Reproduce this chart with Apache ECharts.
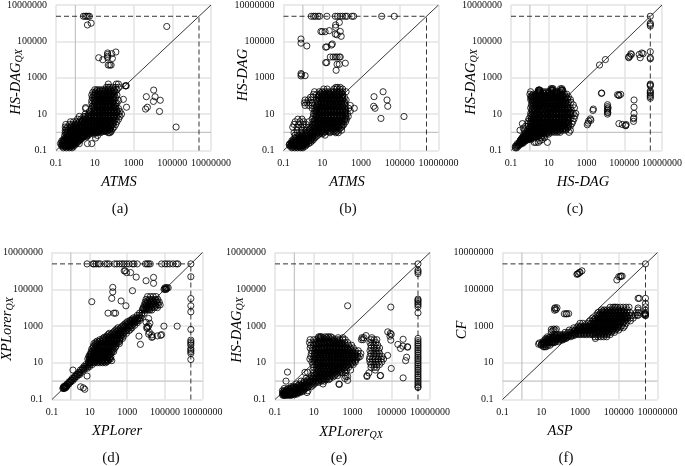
<!DOCTYPE html>
<html><head><meta charset="utf-8">
<style>html,body{margin:0;padding:0;background:#fff}#c{width:685px;height:466px}</style>
<script src="https://cdn.jsdelivr.net/npm/echarts@6/dist/echarts.min.js"></script>
</head><body><div id="c"></div>
<script>
// Values. Each row is [y value, [x values]].
const TIMEOUT = 2400000;
const tickValues = [0.1, 10, 1000, 100000, 10000000];

const rowsA = [
[0.14,[.24,.34,.48,.67]],[0.17,[.2,.28,.4,.56,.8]],[0.2,[.2,.24,.34,.48,.67,.95]],
[0.24,[.17,.28,.4,.56,.8,1.1,1.6,4.2,7]],[0.28,[.2,.34,.48,.67,.95,1.3]],[0.34,[.2,.28,.4,.56,.8,1.1,1.6]],
[0.4,[.24,.34,.48,.67,.95,1.3,1.9]],[0.48,[.28,.4,.56,.8,1.1,1.6,2.2,11]],[0.56,[.34,.48,.67,.95,1.3,1.9,2.7,3.8]],
[0.67,[.28,.4,.56,.8,1.1,1.6,2.2,3.2,4.5,14]],[0.8,[.34,.48,.67,.95,1.3,1.9,2.7,3.8,5.3,9]],[0.95,[.3,.4,.56,.8,1.1,1.6,2.2,3.2,4.5,6.3,9,13,20,50,60]],
[1.1,[.34,.48,.67,.95,1.3,1.9,2.7,3.8,5.3,7.5,10.6,15,21,30,42,70]],[1.3,[.3,.4,.56,.8,1.1,1.6,2.2,3.2,4.5,6.3,9,13,18,25,35,50,70]],
[1.6,[.34,.48,.67,.95,1.3,1.9,2.7,3.8,5.3,7.5,10.6,15,21,30,42,60,85]],[1.95,[.3,.4,.56,.8,1.1,1.6,2.2,3.2,4.5,6.3,9,13,18,25,35,50,70,100]],
[2.7,[.32,.5,.7,.95,1.3,1.9,2.7,3.8,5.3,7.5,10.6,15,21,30,42,60,85,120]],[3.8,[.56,.8,1.1,1.6,2.2,3.2,4.5,6.3,9,13,18,25,35,50,70,100,140]],
[5.3,[1.3,1.9,2.7,3.8,5.3,7.5,10.6,15,21,30,42,60,85,120,170]],[7.5,[1.6,2.7,3.2,4.5,6.3,9,13,18,25,35,50,70,100,140,200]],
[10,[3.2,5,7.5,10.6,15,21,30,42,60,85,120,170,240]],[14,[5.3,9,13,18,25,35,50,70,100,140,200]],
[20,[3.4,7,10.6,15,21,30,42,60,85,120,170]],[24,[435]],[28,[7.5,9,13,18,25,35,50,70,100,120]],[40,[7,10.6,15,21,30,42,60,85,120,140]],
[56,[7,9,13,18,25,35,50,70,100,170]],[65,[300]],[80,[7.5,10.6,15,21,30,42,60,85,120]],[112,[7,9,13,18,25,35,50,70,100,140]],
[160,[8,10.6,15,21,30,42,60,85,112]],[220,[10,13,18,25,35,50,70,100,140]],[300,[40,50,60,85,120,170]],[360,[400,380,420]],[450,[50,166,130]],
[.16,[.3,.4,.56]],[.18,[.24,.34,.48,.67]],[.22,[.2,.28,.4,.56,.8]],[.26,[.24,.34,.48,.67,.95]],[.31,[.24,.34,.48,.67,.95,1.3]],[.37,[.28,.4,.56,.8,1.1,1.6]],[.44,[.34,.48,.67,.95,1.3,1.9]],[.52,[.4,.56,.8,1.1,1.6,2.2]],[.62,[.48,.67,.95,1.3,1.9,2.7,3.8]],[.73,[.48,.67,.95,1.3,1.9,2.7,3.8]],[.88,[.56,.8,1.1,1.6,2.2,3.2,4.5]],
[1.03,[.67,.95,1.3,1.9,2.7,3.8,5.3,7.5,10.6,15]],[1.2,[.56,.8,1.1,1.6,2.2,3.2,4.5,6.3,9,13,18,25,35]],[1.45,[.67,.95,1.3,1.9,2.7,3.8,5.3,7.5,10.6,15,21,30,42,60]],[1.75,[.8,1.1,1.6,2.2,3.2,4.5,6.3,9,13,18,25,35,50]],[2.3,[.8,1.1,1.6,2.2,3.2,4.5,6.3,9,13,18,25,35,50,70]],[3.2,[1.3,1.9,2.7,3.8,5.3,7.5,10.6,15,21,30,42,60,85]],
[4.5,[2.2,3.2,4.5,6.3,9,13,18,25,35,50,70,100]],[6.3,[3.2,4.5,6.3,9,13,18,25,35,50,70,100]],[8.7,[4.5,6.3,9,13,18,25,35,50,70,100]],[12,[6.3,9,13,18,25,35,50,70,100,140]],[17,[9,13,18,25,35,50,70,100,140]],[24,[9,13,18,25,35,50,70,100]],[34,[9,13,18,25,35,50,70,100]],[48,[10,15,21,30,42,60,85]],[68,[9,13,18,25,35,50,70,100]],[95,[9,13,18,25,35,50,70,100]],[135,[10.6,15,21,30,42,60,85]],[190,[13,18,25,35,50,70,100]]];
const outliersA = [[52000,660000],[2.6,2400000],[3.2,2400000],[3.8,2400000],[4.5,2400000],[5.3,2400000],[4.2,800000],[6.5,1000000],
[16,12600],[26,9800],[46,23000],[46,19000],[46,15000],[46,12600],[76,21000],[123,26000],[81,11500],[50,5000],[70,5000],[60,5000],
[4600,91],[11000,210],[13000,90],[10700,50],[24000,58],[5200,24],[4200,19],[22000,14],[158000,1.95],[3.4,23]];

const rowsB = [
[0.14,[.27,.38,.53,.75,1]],[0.17,[.22,.32,.45,.63,.9,1.3]],[0.2,[.2,.27,.38,.53,.75,1.06,1.5]],[0.24,[.22,.32,.45,.63,.9,1.3,2]],
[0.28,[.27,.38,.53,.75,1.06,1.5,2.5]],[0.34,[.27,.45,.63,.9,1.3,2,3]],[0.4,[.32,.53,.75,1.06,1.5,2.5,3.5]],[0.5,[.38,.63,.9,1.3,2,3,4.2]],
[0.7,[.4,.6,.9,1.4,2,3,4.2,6,14]],[0.95,[.35,.5,.8,1.3,2,3,4.2,6,8.5,12,25,50,68]],[1.3,[.5,.9,1.5,2.1,3,4.2,6,8.5,12,17,24,34,48,68,100]],
[1.9,[.3,.5,.8,1.2,2,3,4.2,6,8.5,12,17,24,34,48,68,100]],[2.7,[.35,.6,1,1.5,3,4.2,6,8.5,12,17,24,34,48,68,100,130]],
[3.8,[.4,.7,1.1,2,3.5,5,7,10,14,20,28,40,56,80,112,160]],[5.3,[.55,.9,3,4.2,6,8.5,12,17,24,34,48,68,100,140,180]],
[7.5,[3.5,5,7,10,14,20,28,40,56,80,112,160,220]],[10.6,[3.5,4.2,6,8.5,12,17,24,34,48,68,100,140,200]],[15,[4,5,7,10,14,20,28,40,56,80,112,160,280]],
[21,[3,4.2,6,8.5,12,17,24,34,48,68,100,140,230,450]],[30,[1.3,2,3,5,7,10,14,20,28,40,56,80,112,160,280]],[42,[1.2,1.6,2.2,3,6,8.5,12,17,24,34,48,68,100,140]],
[60,[1.3,1.9,2.7,5,7,10,14,20,28,40,56,80,112,170]],[85,[2.5,3.3,6,8.5,12,17,24,34,48,68,100,140]],[120,[3.5,5,7,10,14,20,28,40,56,80,112]],
[170,[4,7,10,14,20,28,40,56,80,112,170]],[240,[12,18,40,56,80,112]],[295,[50,85,60]],
[.155,[.3,.45,.63,.9]],[.185,[.25,.38,.53,.75,1.06]],[.22,[.2,.27,.38,.53,.75,1.06,1.5]],[.26,[.26,.38,.53,.75,1.06,1.5]],[.31,[.32,.45,.63,.9,1.3,2]],[.37,[.38,.53,.75,1.06,1.5,2.5]],[.45,[.45,.63,.9,1.3,2,3]],
[.6,[.7,1,1.6,2.4,3.5,5]],[.82,[1,1.6,2.4,3.5,5,7,10]],[1.1,[2.4,3.5,5,7,10,14,20,28,40,56]],[1.6,[2.4,3.5,5,7,10,14,20,28,40,56,80]],[2.3,[3.5,5,7,10,14,20,28,40,56,80,112]],[3.2,[4.2,6,8.5,12,17,24,34,48,68,100]],[4.5,[4.2,6,8.5,12,17,24,34,48,68,100,140]],
[6.3,[5,7,10,14,20,28,40,56,80,112,160]],[9,[5,7,10,14,20,28,40,56,80,112,160]],[12.6,[5,7,10,14,20,28,40,56,80,112,160]],[18,[5,7,10,14,20,28,40,56,80,112,160]],[25,[5,7,10,14,20,28,40,56,80,112]],[35,[6,8.5,12,17,24,34,48,68,100,140]],[50,[6,8.5,12,17,24,34,48,68,100,140]],[72,[7,10,14,20,28,40,56,80,112]],[100,[7,10,14,20,28,40,56,80,112]],[145,[8.5,12,17,24,34,48,68,100]]];
const outliersB = [[2.7,TIMEOUT],[3.6,TIMEOUT],[4.4,TIMEOUT],[6,TIMEOUT],[7.3,TIMEOUT],[17.4,TIMEOUT],[47,TIMEOUT],[62,TIMEOUT],[85,TIMEOUT],[112,TIMEOUT],[155,TIMEOUT],[190,TIMEOUT],[340,TIMEOUT],[417,TIMEOUT],[11700,TIMEOUT],[52000,TIMEOUT],
[49,800000],[49,590000],[76,1100000],[8.5,350000],[10,340000],[14,340000],[23,390000],[85,350000],[47,250000],[58,230000],[95,190000],[.8,135000],[.8,80000],[1.6,56000],[15,48000],[17,50000],[30,63000],[33,72000],
[26,13800],[36,13800],[47,13800],[58,13800],[76,13800],[85,13800],[15,6800],[17,6800],[58,5500],[76,5500],[155,6300],[52,2570],[.8,1700],[.8,1260],[1.3,1300],[.85,1500],
[4700,91],[13800,170],[22000,60],[4500,27],[5300,21],[24000,27],[10700,5.8],[166000,7.4]];

const rowsC = [
[0.14,[.17,.2]],[0.17,[.17,.2,.24]],[0.2,[.2,.24,.28]],[0.24,[.22,.28,.34,.4]],[0.28,[.28,.34,.4,.48,1.7,2.1,2.8,8.5]],[0.34,[.3,.38,.48,.6,3.4]],
[0.4,[.34,.42,.53,.67,.85,1.1,4.5]],[0.5,[.4,.5,.63,.8,1,1.3,1.7,4,6]],[0.62,[.45,.6,.75,.95,1.2,1.6,2.1,2.8,4.2,5.6]],[0.8,[.55,.7,.9,1.2,1.6,2.1,2.8,3.8,5,7,10]],
[1,[.6,.8,1.1,1.5,2,2.8,3.8,5,7,10,14,20,28,40,120]],[1.3,[.3,.5,.75,1,1.4,1.9,2.6,3.5,5,7,10,14,20,28,40,56,80,140]],[1.7,[.45,.9,1.2,1.6,2.2,3,4.2,6,8.5,12,17,24,34,48,68,100]],
[2.2,[.6,.8,1.1,1.5,2,2.8,3.8,5.3,7.5,10,14,20,28,40,56,80,112,140]],[3,[.4,.8,1.1,1.5,2,2.8,3.8,5.3,7.5,10,14,20,28,40,56,80,112,170]],[4,[.8,1.1,1.5,2,2.8,3.8,5.3,7.5,10,14,20,28,40,56,80,112,190]],
[5.6,[.9,1.2,1.6,2.2,3,4.2,6,8.5,12,17,24,34,48,68,100,140,220]],[8,[1.1,1.5,2,2.8,3.8,5.3,7.5,10,14,20,28,40,56,80,112,160,240]],[11,[1.1,1.6,2.2,3,4.2,6,8.5,12,17,24,34,48,68,100,140,200,270]],
[16,[1.3,1.8,2.5,3.5,5,7,10,14,20,28,40,56,80,112,160]],[22,[1.1,1.6,2.2,3,4.2,6,8.5,12,17,24,34,48,68,100,140,230]],[32,[1.2,1.7,2.4,3.3,4.7,6.5,9,13,18,25,35,50,70,100,200]],
[45,[1.3,1.8,2.5,3.5,5,7,10,14,20,28,40,56,80,110,150]],[63,[1.1,1.5,2.2,3,4.2,6,8.5,12,17,24,34,48,68,100,140]],[90,[1.1,1.3,1.8,2.5,3.5,5,7,10,14,20,28,40,56,80,110]],
[125,[1,1.5,2.2,3,4.2,6,8.5,12,17,24,34,48,68,90]],[170,[1.1,2.7,3.1,3.5,5,7,10,14,20,28,40,56]],[210,[2.8,3,3.2,3.4,13,15,17,45,50,55]],[250,[13,15,17,42,50]],
[.31,[.3,.36,.44]],[.37,[.32,.4,.5,.63]],[.45,[.36,.45,.56,.7,.9,1.2]],[.56,[.42,.53,.67,.85,1.1,1.4,1.9]],[.71,[.6,.8,1,1.3,1.8,2.4,3.2]],[.9,[.7,.95,1.3,1.8,2.4,3.2,4.3,6,8.5]],[1.15,[.95,1.3,1.8,2.4,3.2,4.3,6,8.5,12,17,24,34]],[1.5,[1.1,1.5,2,2.8,3.8,5,7,10,14,20,28,40,56,80]],[1.95,[1.3,1.8,2.4,3.3,4.7,6.5,9,13,18,25,35,50,70]],
[2.6,[1.3,1.8,2.4,3.3,4.7,6.5,9,13,18,25,35,50,70,100]],[3.5,[1.3,1.8,2.4,3.3,4.7,6.5,9,13,18,25,35,50,70,100]],[4.8,[1.3,1.8,2.4,3.3,4.7,6.5,9,13,18,25,35,50,70,100]],[6.8,[1.3,1.8,2.4,3.3,4.7,6.5,9,13,18,25,35,50,70,100]],[9.5,[1.3,1.8,2.4,3.3,4.7,6.5,9,13,18,25,35,50,70,100,140]],[13,[1.3,1.8,2.4,3.3,4.7,6.5,9,13,18,25,35,50,70,100,140]],[19,[1.3,1.8,2.4,3.3,4.7,6.5,9,13,18,25,35,50,70,100]],[27,[1.4,2,2.8,3.8,5.3,7.5,10.6,15,21,30,42,60,85]],[38,[1.5,2.1,3,4,5.6,8,11,16,22,32,45,63,90]],[54,[1.3,1.8,2.5,3.5,5,7,10,14,20,28,40,56,80]],[75,[1.2,1.6,2.2,3,4.2,6,8.5,12,17,24,34,48,68,95]],[105,[1.3,1.8,2.5,3.5,5,7,10,14,20,28,40,56]],[145,[2.5,3.5,5,7,10,14,20,28,40]]];
const outliersC = [[TIMEOUT,TIMEOUT],[TIMEOUT,1000000],[TIMEOUT,850000],[TIMEOUT,700000],[10000,10000],[4900,5000],
[174000,12600],[200000,15500],[224000,20900],[240000,19000],[170000,14000],[620000,19000],[700000,12600],[850000,23000],[1000000,21000],[TIMEOUT,27000],[TIMEOUT,12600],[TIMEOUT,11000],
[TIMEOUT,450],[TIMEOUT,400],[TIMEOUT,360],[TIMEOUT,190],[TIMEOUT,160],[TIMEOUT,138],[TIMEOUT,110],[TIMEOUT,91],[TIMEOUT,75],
[6200,138],[6400,145],[44000,117],[52000,112],[65000,122],[52000,105],[330000,60],[330000,24],[330000,11],[310000,5.5],[310000,4],[320000,6.3],
[13000,33],[13000,26],[13000,19],[13000,16],[13000,13],[13000,10],[14000,22],[13500,12],[2300,19],[2200,16],[1600,5.5],[1300,4.2],[1100,2.6],[1200,3.2],[1700,4.6],
[52000,3],[79000,2.7],[117000,2.4],[126000,2.7],[120000,2.3]];

const rowsD = [
[0.4,[.38,.42,.46]],[0.45,[.4,.45,.5,.55]],[0.5,[.42,.47,.52,.58]],[0.56,[.5,.56,.63]],[0.7,[.63,.7,.8]],[0.9,[.8,.9,1]],[1.1,[1,1.1,1.3]],[1.4,[1.2,1.4,1.6]],
[1.8,[1.6,1.8,2.1]],[2.3,[2,2.3,2.6,3]],[3,[2.6,3,3.5]],[4,[3.2,4,4.8]],[5,[4.2,5,6,7.5]],[6.3,[5,6.3,8,10]],[8,[6.3,8,10,14]],
[10,[9,11,14,18,25,35,50,70]],[13,[9,11,14,18,25,35,50,70,100,150]],[16,[8,10,14,20,28,40,56,80,112,130]],[22,[9,12,17,24,34,48,68,95,135]],[30,[11,15,21,30,42,60,85,120]],
[40,[12,17,24,34,48,68,95,135,190]],[56,[13,18,25,35,50,70,100,140,200]],[80,[16,23,32,45,63,90,125,180,250]],[110,[17,24,34,48,68,95,135,190,270,380]],[150,[25,35,50,70,100,140,200,280,400]],
[210,[50,70,100,140,200,280,400,560]],[280,[80,112,160,225,320,450,630,4200]],[400,[112,160,225,320,450,630,900]],[560,[225,320,450,630,900,1250]],[800,[320,450,630,900,1250,1800]],
[1100,[630,900,1250,1800,2500]],[1500,[900,1250,1800,2500,3400]],[2000,[1400,1800,2500,3400,4500]],[2800,[2200,3000,4000,5300]],[3800,[3400,4500,6000]],[5000,[4500,6000,8000,95,195,240]],
[7400,[6300,8000,10000,13000,16000,20000]],[10000,[7000,10000,14000,20000,28000,40000]],[14000,[8000,11000,16000,22000,32000,45000,56000]],[20000,[9000,12500,18000,25000,36000,50000]],[28000,[10000,15000,21000,30000,42000]],[40000,[12000,17000,24000,34000]],
[100000,[90000,100000,110000,120000]],[120000,[100000,115000,130000,150000]],
[11.5,[12,16,21,30,42,60,85]],[14.5,[10,12,16,23,33,47,66,95]],[19,[10,12,16,23,33,47,66,95,120]],[26,[10,13,19,27,38,54,75,105]],[35,[13,19,27,38,54,75,105,150]],[48,[15,21,30,42,60,85,120,170]],[67,[15,21,30,42,60,85,120,170,230]],[95,[20,28,40,56,80,112,160,225]],[130,[21,30,42,60,85,120,170,240,340]],[180,[35,50,70,100,140,200,280,400]],[245,[60,85,120,170,240,340,480]],[340,[95,135,190,270,380,530]],[480,[190,270,380,530,750]],[670,[270,380,530,750,1050,1500]],[950,[530,750,1050,1500]],[1300,[750,1050,1500,2100]],[1750,[1050,1500,2100,3000]],[2400,[1800,2500,3500]],[8700,[7000,9000,11500,15000]],[12000,[9000,12000,17000,24000,34000]],[17000,[10000,14000,20000,28000,40000]],[24000,[12000,17000,25000,36000]]];
const outliersD = [[7.3,TIMEOUT],[15,TIMEOUT],[17,TIMEOUT],[22,TIMEOUT],[29,TIMEOUT],[36,TIMEOUT],[65,TIMEOUT],[85,TIMEOUT],[107,TIMEOUT],[210,TIMEOUT],[280,TIMEOUT],[390,TIMEOUT],[530,TIMEOUT],[690,TIMEOUT],[930,TIMEOUT],[1250,TIMEOUT],[1900,TIMEOUT],[2300,TIMEOUT],[3400,TIMEOUT],[9300,TIMEOUT],[11300,TIMEOUT],[13700,TIMEOUT],[16700,TIMEOUT],[67000,TIMEOUT],[100000,TIMEOUT],[132000,TIMEOUT],[180000,TIMEOUT],[270000,TIMEOUT],[400000,TIMEOUT],[490000,TIMEOUT],[TIMEOUT,TIMEOUT],
[TIMEOUT,480000],[TIMEOUT,31000],[TIMEOUT,12600],[TIMEOUT,5900],[TIMEOUT,650],[TIMEOUT,170],[TIMEOUT,138],[TIMEOUT,112],[TIMEOUT,91],[TIMEOUT,60],[TIMEOUT,49],[TIMEOUT,40],[TIMEOUT,32],[TIMEOUT,15],
[690,1000000],[780,1000000],[930,800000],[1500,810000],[3000,460000],[10000,290000],[25000,440000],[25000,210000],[170,126000],[170,72000],[1900,83000],[150,32000],[470,23000],[13,21000],[850,12600],[3.3,.49],[4.6,.43],[5.5,.36],[7.3,1.9],[1.3,4],
[11000,900],[11000,740],[12000,820],[89000,980],[450000,980],[13700,360],[20000,330],[22000,260],[40000,290],[60000,310],[67000,340],[4500,2500],[13700,2570],[16000,1400],[13700,1000],[10000,1600],[15000,450],[20000,240],[5000,100]];

const rowsE = [
[0.17,[.25,.32,.4,.53,.67]],[0.2,[.25,.3,.38,.48,.6,.8,1,1.4]],[0.24,[.25,.32,.4,.5,.63,.85,1.1,1.5,2,4.5]],[0.3,[.24,.3,.38,.48,.63,.85,1.1,1.5,2.1,3,5]],
[0.4,[.3,.48,.67,.95,1.3,1.9,2.7,3.8]],[0.5,[.67,.95,1.3,1.9,2.7,3.8,5.3,7.5]],[0.7,[1.3,1.9,2.7,3.8,5.3,7.5,10.6,30,200]],[1,[2.2,3.2,4.5,6.3,9,13,18,25,35,.37]],
[1.4,[4,6.3,9,13,18,25,35,50,70,400]],[2,[7.5,10.6,15,21,30,42,60,85,120,170,5600,27000]],[2.8,[10,14,20,28,40,56,80,112,160,224,290,420,7000]],
[4,[9,13,18,25,35,50,70,100,140,200,280,400,15000,500,800]],[5.6,[10,14,20,28,40,56,80,112,160,224,320,450,630,9000,13000,18000]],[8,[9,13,18,25,35,50,70,100,140,200,280,400,560,800,1100,9000,13000,18000,25000]],
[11,[8,11,16,22,32,45,63,90,125,180,250,350,500,700,1000,1400,8000,11000,16000,22000,32000]],[16,[6.3,9,13,18,25,35,50,70,100,140,200,280,400,560,800,1100,1600,7500,10500,15000,21000,30000,40000]],
[22,[7,10,14,20,28,40,56,80,112,160,224,320,450,630,900,1250,1800,2500,8000,12000,17000,24000,34000]],[32,[7.5,11,15,21,30,42,60,85,120,170,240,340,480,680,950,1350,1900,2700,9000,13000,18000,25000]],
[45,[8,11,16,22,32,45,63,90,125,180,250,350,500,700,1000,1400,2000,8000,11000,16000,22000]],[63,[6.5,9,13,18,25,35,50,70,100,140,200,280,400,560,800,1100,9000,13000,18000,25000]],[90,[7,10,14,20,28,40,56,80,112,160,224,320,450,630,900,9000,13000,20000]],
[125,[6,9,13,18,25,35,50,70,100,140,200,280,400,560,8000,11000,16000]],[180,[6.5,10,14,20,28,40,56,80,112,160,224,320,420,2900,3600,9000,13000,18000]],[230,[18,22,30,45,63,90,180,320,3100,3900,10000]],[260,[18,22,25,40,56,75]],
[.18,[.28,.36,.45,.6,.75,1]],[.22,[.28,.36,.45,.56,.75,1,1.3]],[.27,[.28,.36,.45,.56,.75,1,1.3,1.8,2.5]],[.35,[.4,.56,.8,1.1,1.6,2.2,3.2]],[.45,[.8,1.1,1.6,2.2,3.2,4.5]],[.6,[1.6,2.2,3.2,4.5,6.3,9]],[.85,[3.2,4.5,6.3,9,13,18]],[1.2,[5,7.5,10.6,15,21,30,42,60]],[1.7,[9,13,18,25,35,50,70,100]],[2.4,[13,18,25,35,50,70,100,140]],[3.4,[16,22,32,45,63,90,125,180,250]],[4.8,[16,22,32,45,63,90,125,180,250,350]],[6.8,[16,22,32,45,63,90,125,180,250,350,500]],[9.5,[16,22,32,45,63,90,125,180,250,350,500,700,1000]],[13.5,[11,16,22,32,45,63,90,125,180,250,350,500,700,1000,1400]],[19,[11,16,22,32,45,63,90,125,180,250,350,500,700,1000,1400,2000]],[27,[11,16,22,32,45,63,90,125,180,250,350,500,700,1000,1400]],[38,[13,18,25,35,50,70,100,140,200,280,400,560,800,1100]],[54,[13,18,25,35,50,70,100,140,200,280,400,560,800]],[75,[13,18,25,35,50,70,100,140,200,280,400]],[105,[13,18,25,35,50,70,100,140,200,280]],[150,[16,22,32,45,63,90,125,180]]];
const outliersE = [[560,12600],[95000,10700],[.44,3.1],[3.5,3],[4.8,3],[.3,.17],
[TIMEOUT,TIMEOUT],[TIMEOUT,1100000],[TIMEOUT,900000],[TIMEOUT,720000],[TIMEOUT,29000],[TIMEOUT,25000],[TIMEOUT,21000],[TIMEOUT,17000],[TIMEOUT,14000],[TIMEOUT,11000],[TIMEOUT,5200],
[TIMEOUT,210],[TIMEOUT,160],[TIMEOUT,125],[TIMEOUT,100],[TIMEOUT,80],[TIMEOUT,63],[TIMEOUT,50],[TIMEOUT,40],[TIMEOUT,32],[TIMEOUT,25],[TIMEOUT,20],[TIMEOUT,16],[TIMEOUT,13],[TIMEOUT,10],[TIMEOUT,8],[TIMEOUT,6.3],[TIMEOUT,5],[TIMEOUT,4],[TIMEOUT,3.2],[TIMEOUT,2.5],[TIMEOUT,2],[TIMEOUT,1.6],[TIMEOUT,1.3],[TIMEOUT,1],[TIMEOUT,.8],[TIMEOUT,.63],[TIMEOUT,.5],[TIMEOUT,.45],
[66000,480],[90000,400],[100000,350],[95000,170],[86000,280],[220000,100],[300000,60],[400000,80],[410000,190],[690000,75],[700000,70],[550000,13],[620000,20],[410000,1.5],[100000,4.9],[65000,25],[28000,2],[5600,1.8],[210,.66],[450,1.8],[560,1.1],[560,1.8],[5000,300]];

const rowsF = [
[74,[13,15,18]],[90,[10,13,17,22,28]],[102,[7.3,10,12,14]],[120,[8,11,14,19,26,34,42]],[140,[12,17,22,30,42,55,75]],[170,[15,21,30,42,60,85,120]],
[210,[17,24,34,48,68,95,135,190,6200]],[260,[21,30,42,60,85,120,170,240,340,6000,8500,12000,17000,24000]],[340,[48,68,95,135,190,270,400,560,800,1100,1600,2200,3200,4500,6300,9000,13000,18000,25000,36000]],
[450,[170,240,340,480,680,950,1350,1900,2700,3800,5300,7500,10600,15000,21000,30000,42000,60000]],[600,[280,400,560,800,1100,1600,2200,3200,4500,6300,9000,13000,18000,25000,36000,50000,70000,100000]],
[800,[480,680,950,1350,1900,2700,3800,5300,7500,10600,15000,21000,30000,42000,60000,85000,120000,170000]],[1000,[800,1100,1600,2200,3200,4500,6300,9000,13000,18000,25000,36000,50000,70000,100000,140000,200000]],
[1400,[1000,1400,2700,3800,5300,7500,10600,15000,21000,30000,42000,60000,85000,120000,170000,240000]],[1900,[3200,4500,6300,9000,13000,18000,25000,36000,50000,70000,100000,140000,200000,280000,400000]],
[2700,[4500,6300,9000,13000,18000,25000,36000,50000,70000,100000,140000,200000,280000,400000,560000]],[3800,[7500,10600,15000,21000,30000,42000,60000,85000,120000,170000,240000,340000,480000,700000,1000000]],
[5400,[8500,12000,17000,24000,34000,48000,68000,95000,135000,190000,270000,380000,800000,1100000]],[7500,[13000,18000,25000,36000,50000,70000,100000,140000,200000,280000,1000000]],[10500,[36000,50000,60000,70000,85000,120000,170000,240000,340000]],
[130,[14,19,26,36,50]],[190,[19,27,38,54,76,108,150]],[235,[26,38,54,76,108,150,210]],[300,[60,85,120,170,240,340,480]],[390,[400,560,800,1100,1600,2300,3200,4500,6400,9000,13000,18000,26000]],[520,[500,700,1000,1400,2000,2800,4000,5600,8000,11000,16000,22000,32000,45000]],[700,[800,1100,1600,2300,3200,4500,6400,9000,13000,18000,26000,36000,50000,72000]],[900,[1000,1400,2000,2800,4000,5600,8000,11000,16000,22000,32000,45000,63000,90000]],[1200,[3200,4500,6400,9000,13000,18000,26000,36000,50000,72000,100000]],[1650,[5300,7500,10600,15000,21000,30000,42000,60000,85000,120000,170000]],[2300,[5300,7500,10600,15000,21000,30000,42000,60000,85000,120000,170000,240000]],[3200,[9000,13000,18000,25000,36000,50000,70000,100000,140000,200000,280000]],[4500,[10000,14000,20000,28000,40000,56000,80000,112000,160000,225000]],[6400,[15000,21000,30000,42000,60000,85000,120000,170000]]];
const outliersF = [[TIMEOUT,TIMEOUT],[690,650000],[760,690000],[930,800000],[1000,850000],[1260,1000000],[800,700000],[80000,320000],[100000,480000],[132000,520000],[150000,520000],[120000,500000],
[49,8900],[52,9800],[65,9800],[49,7200],[58,7800],[155,4600],[210,4600],[260,4700],[190,4600],[33,650],[44,680],[60,680],[33,480],[40,560],[52,600],
[1000000,32000],[1150000,32000],[TIMEOUT,32000],[TIMEOUT,17000],[TIMEOUT,11000],[TIMEOUT,7200],[TIMEOUT,5000],[TIMEOUT,4400],[TIMEOUT,4000],[TIMEOUT,3600],[1000000,9500],[900000,3900],[2000000,4200],[2200000,4800]];

const xNames = [['ATMS'],['ATMS'],['HS-DAG'],['XPLorer'],['XPLorer','QX'],['ASP']];
const yNames = [['HS-DAG','QX'],['HS-DAG'],['HS-DAG','QX'],['XPLorer','QX'],['HS-DAG','QX'],['CF']];
const panelLabels = ['(a)','(b)','(c)','(d)','(e)','(f)'];
const rows = [rowsA,rowsB,rowsC,rowsD,rowsE,rowsF];
const outliers = [outliersA,outliersB,outliersC,outliersD,outliersE,outliersF];

// layout: plot rect, x-title centre, y-title centre, label centre
const layout = [
 {l:56,  t:3.5, xn:[119,182], yn:[16,82],  pl:[120,209]},
 {l:283.5,t:3.5,xn:[347,182], yn:[243,75], pl:[348,209]},
 {l:511, t:3.5, xn:[583,182], yn:[471,82], pl:[575,209]},
 {l:47.5,t:252.5,xn:[117,431],yn:[7,329],  pl:[111,458]},
 {l:275, t:252.5,xn:[351,432],yn:[237,330],pl:[339,458]},
 {l:502.5,t:252.5,xn:[560,431],yn:[462,330],pl:[566,458]}
];
const W = 155, H = 147;
const serif = '"Liberation Serif","Times New Roman",serif';
const richText = n => n.length>1 ? `{m|${n[0]}}{s|${n[1]}}` : `{m|${n[0]}}`;
const rich = {
  m:{fontFamily:serif,fontStyle:'italic',fontSize:14.5,color:'#111'},
  s:{fontFamily:serif,fontStyle:'italic',fontSize:10,color:'#111',verticalAlign:'bottom',padding:[7,0,0,0]}
};
const grids=[],xAxes=[],yAxes=[],series=[],graphics=[];
const axisBase = {type:'log',logBase:10,min:0.1,max:10000000,interval:2,
  axisLine:{show:false},axisTick:{show:false},minorTick:{show:false},minorSplitLine:{show:false},
  splitLine:{show:true,lineStyle:{color:'#e3e3e3',width:1.5}},
  axisLabel:{fontFamily:serif,fontSize:10,color:'#111',formatter:v=>String(tickValues.reduce((a,b)=>Math.abs(Math.log10(b/v))<Math.abs(Math.log10(a/v))?b:a))}};
layout.forEach((p,i)=>{
  grids.push({left:p.l,top:p.t,width:W,height:H,containLabel:false});
  xAxes.push({...axisBase,gridIndex:i,axisLabel:{...axisBase.axisLabel,margin:8}});
  yAxes.push({...axisBase,gridIndex:i,axisLabel:{...axisBase.axisLabel,margin:9}});
  const line=(d,color,width,type)=>series.push({type:'line',xAxisIndex:i,yAxisIndex:i,data:d,symbol:'none',silent:true,animation:false,z:1,lineStyle:{color,width,type}});
  line([[1,0.1],[1,1e7]],'#c4c4c4',1.2,'solid');
  line([[0.1,1],[1e7,1]],'#c4c4c4',1.2,'solid');
  line([[0.1,0.1],[1e7,1e7]],'#222',0.9,'solid');
  line([[0.1,TIMEOUT],[TIMEOUT,TIMEOUT]],'#333',1,[5,3]);
  line([[TIMEOUT,0.1],[TIMEOUT,TIMEOUT]],'#333',1,[5,3]);
  const pts=[];
  rows[i].forEach(([y,xs])=>xs.forEach(x=>pts.push([x,y])));
  outliers[i].forEach(q=>pts.push(q));
  series.push({type:'scatter',xAxisIndex:i,yAxisIndex:i,data:pts,symbol:'circle',symbolSize:6.2,animation:false,progressive:0,z:3,
    itemStyle:{color:'rgba(0,0,0,0)',borderColor:'#000',borderWidth:1},clip:false});
  graphics.push({type:'text',x:p.xn[0],y:p.xn[1],style:{text:richText(xNames[i]),rich,align:'center',verticalAlign:'middle'}});
  graphics.push({type:'text',x:p.yn[0],y:p.yn[1],rotation:Math.PI/2,style:{text:richText(yNames[i]),rich,align:'center',verticalAlign:'middle'}});
  graphics.push({type:'text',x:p.pl[0],y:p.pl[1],style:{text:panelLabels[i],font:'15px '+serif,fill:'#111',align:'center',verticalAlign:'middle'}});
});
const chart=echarts.init(document.getElementById('c'),null,{renderer:'canvas'});
chart.setOption({animation:false,backgroundColor:'#fff',grid:grids,xAxis:xAxes,yAxis:yAxes,series,graphic:{elements:graphics}});
</script></body></html>
